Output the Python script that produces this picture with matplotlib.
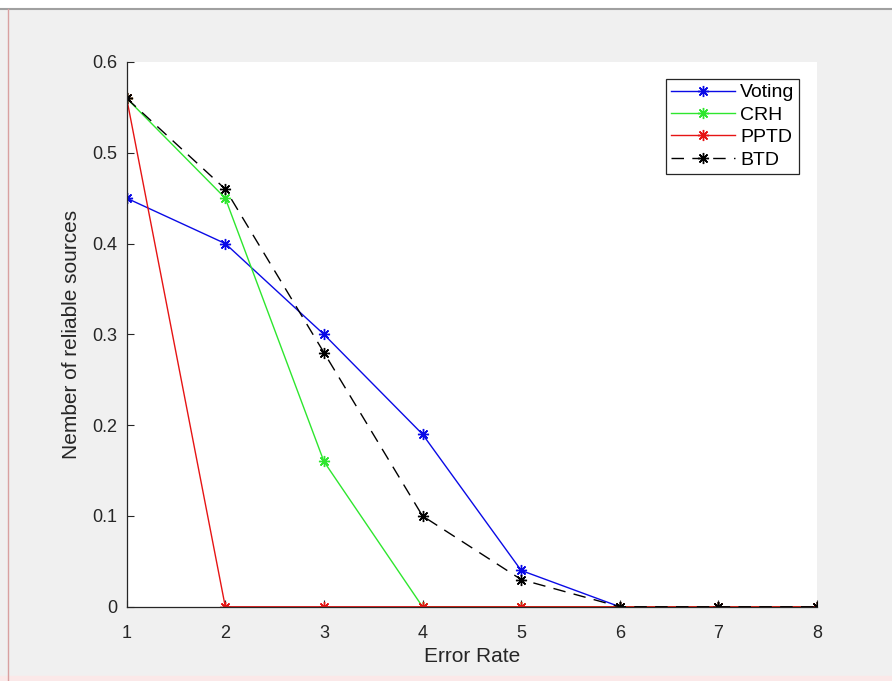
import numpy as np
import matplotlib
matplotlib.use('Agg')
import matplotlib.pyplot as plt

plt.rcParams['font.family'] = ['Liberation Sans', 'DejaVu Sans']

# ------------------ DONNEES ------------------------------------------------

error_rate = [1, 2, 3, 4, 5, 6, 7, 8]
voting = [0.45, 0.40, 0.30, 0.19, 0.04, 0.0, 0.0, 0.0]
crh = [0.56, 0.45, 0.16, 0.0, 0.0, 0.0, 0.0, 0.0]
pptd = [0.56, 0.0, 0.0, 0.0, 0.0, 0.0, 0.0, 0.0]
btd = [0.56, 0.46, 0.28, 0.10, 0.03, 0.0, 0.0, 0.0]

x_ticks = [1, 2, 3, 4, 5, 6, 7, 8]
y_ticks = [0, 0.1, 0.2, 0.3, 0.4, 0.5, 0.6]
y_labels = ['0', '0.1', '0.2', '0.3', '0.4', '0.5', '0.6']

# ------------------ FIGURE -------------------------------------------------

fig = plt.figure(figsize=(8.92, 6.81), dpi=100, facecolor='#f0f0f0')
ax = fig.add_axes([0.142, 0.109, 0.774, 0.800])

asterisk = (8, 2, 0)  # etoile facon matlab
ms = 8
ax.plot(error_rate, voting, color='#0a0ae6', lw=1.0, marker=asterisk, ms=ms, mew=1.0, label='Voting')
ax.plot(error_rate, crh, color='#2ee62e', lw=1.0, marker=asterisk, ms=ms, mew=1.0, label='CRH')
ax.plot(error_rate, pptd, color='#e61414', lw=1.0, marker=asterisk, ms=ms, mew=1.0, label='PPTD')
ax.plot(error_rate, btd, color='black', lw=1.0, ls=(0, (9, 6)), marker=asterisk, ms=ms, mew=1.0, label='BTD')

ax.set_xlim(1, 8)
ax.set_ylim(0, 0.6)
ax.set_xticks(x_ticks)
ax.set_yticks(y_ticks)
ax.set_yticklabels(y_labels)

for s in ['top', 'right']:
    ax.spines[s].set_visible(False)
for s in ['left', 'bottom']:
    ax.spines[s].set_color('#262626')
    ax.spines[s].set_linewidth(0.9)
ax.tick_params(direction='in', length=5, width=0.8, colors='#262626', labelsize=13)
ax.tick_params(axis='x', pad=13)
ax.tick_params(axis='y', pad=7)

ax.set_xlabel('Error Rate', fontsize=15, color='#262626', labelpad=4)
ax.set_ylabel('Nember of reliable sources', fontsize=15, color='#262626', labelpad=8)

leg = ax.legend(loc='upper right', bbox_to_anchor=(0.974, 0.969), borderaxespad=0, fontsize=14,
                handlelength=3.3, handletextpad=0.25, borderpad=0.25, labelspacing=0.25,
                fancybox=False, framealpha=1, edgecolor='#262626')
leg.get_frame().set_linewidth(0.9)

# bord de la fenetre
fig.patches.append(plt.Rectangle((0, 0.988), 1, 0.012, transform=fig.transFigure, color='white', zorder=-1))
fig.patches.append(plt.Rectangle((0, 0), 1, 0.007, transform=fig.transFigure, color='#fbe8e8', zorder=-1))
fig.add_artist(plt.Line2D([0, 1], [0.987, 0.987], color='#a0a0a0', lw=1.5))
fig.add_artist(plt.Line2D([0.009, 0.009], [0, 0.987], color='#d8a0a0', lw=1.0))

plt.savefig('out.png', dpi=100, facecolor=fig.get_facecolor())
